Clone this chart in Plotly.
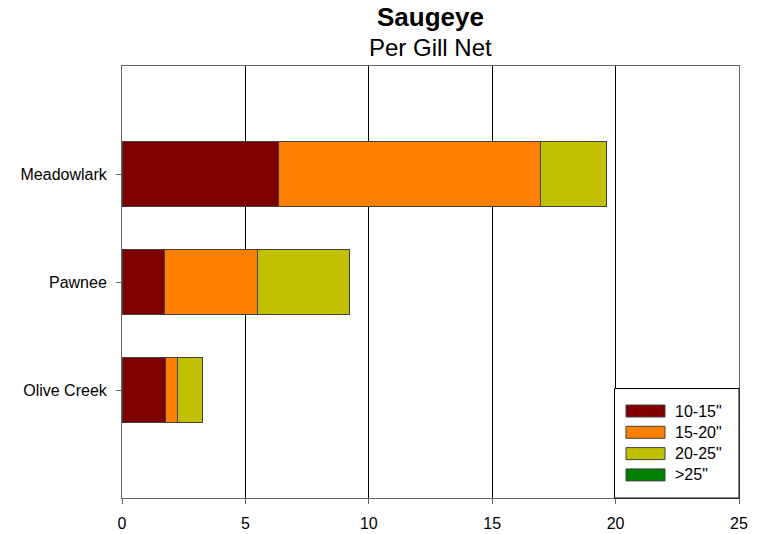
import plotly.graph_objects as go

lakes = ["Meadowlark", "Pawnee", "Olive Creek"]
size_classes = ['10-15"', '15-20"', '20-25"', '>25"']
colors = ["#800000", "#FF8000", "#C0C000", "#008000"]
values = {
    '10-15"': [6.33, 1.71, 1.75],
    '15-20"': [10.62, 3.76, 0.50],
    '20-25"': [2.67, 3.73, 1.03],
    '>25"':   [0.0, 0.0, 0.0],
}
x_ticks = [0, 5, 10, 15, 20, 25]

FONT = "Liberation Sans, Arial, sans-serif"

fig = go.Figure()
for name, col in zip(size_classes, colors):
    fig.add_trace(go.Bar(
        y=lakes, x=values[name], name=name, orientation="h",
        marker=dict(color=col, line=dict(color="#404040", width=1)),
        width=0.6, showlegend=False,
    ))

# plot area in window px: x 122..739, y 66..498
L, R, T, B = 122, 739, 66, 498
W, H = 757, 534

def px(xp):
    return (xp - L) / (R - L)

def py(yp):
    return (B - yp) / (B - T)

shapes = [dict(type="rect", xref="paper", yref="paper",
               x0=px(614.5), x1=1.0, y0=0.0, y1=py(388.5),
               line=dict(color="black", width=1), fillcolor="white", layer="above")]
annotations = []
for i, (name, col) in enumerate(zip(size_classes, colors)):
    top = 405 + i * 21.3
    shapes.append(dict(type="rect", xref="paper", yref="paper",
                       x0=px(626), x1=px(665), y0=py(top + 12), y1=py(top),
                       line=dict(color="#404040", width=1), fillcolor=col, layer="above"))
    annotations.append(dict(xref="paper", yref="paper", x=px(673), y=py(top + 6),
                            text=name, showarrow=False, xanchor="left", yanchor="middle",
                            font=dict(size=16, color="black", family=FONT)))

annotations.append(dict(xref="paper", yref="paper", x=0.5, y=py(17), text="<b>Saugeye</b>",
                        showarrow=False, xanchor="center", yanchor="middle",
                        font=dict(size=26, color="black", family=FONT)))
annotations.append(dict(xref="paper", yref="paper", x=0.5, y=py(47), text="Per Gill Net",
                        showarrow=False, xanchor="center", yanchor="middle",
                        font=dict(size=24, color="black", family=FONT)))

fig.update_layout(
    barmode="stack",
    width=W, height=H,
    margin=dict(l=L, r=W - R, t=T, b=H - B, autoexpand=False),
    paper_bgcolor="white", plot_bgcolor="white",
    font=dict(family=FONT, size=16, color="black"),
    shapes=shapes, annotations=annotations,
    showlegend=False,
)
fig.update_xaxes(
    range=[0, 25], tickvals=x_ticks, showgrid=True, gridcolor="black", gridwidth=1,
    showline=True, linecolor="#666666", linewidth=1, mirror=True,
    ticks="outside", ticklen=5, tickcolor="#666666", zeroline=False,
    tickfont=dict(size=16), ticklabelstandoff=6, automargin=False,
)
fig.update_yaxes(
    type="category", categoryorder="array", categoryarray=lakes[::-1],
    range=[-1, 3], showgrid=False,
    showline=True, linecolor="#666666", linewidth=1, mirror=True,
    ticks="outside", ticklen=5, tickcolor="#666666",
    tickfont=dict(size=16), ticklabelstandoff=6, automargin=False,
)

fig.write_html("out.html", config={"displayModeBar": False},
               post_script="document.body.style.margin='0';")
